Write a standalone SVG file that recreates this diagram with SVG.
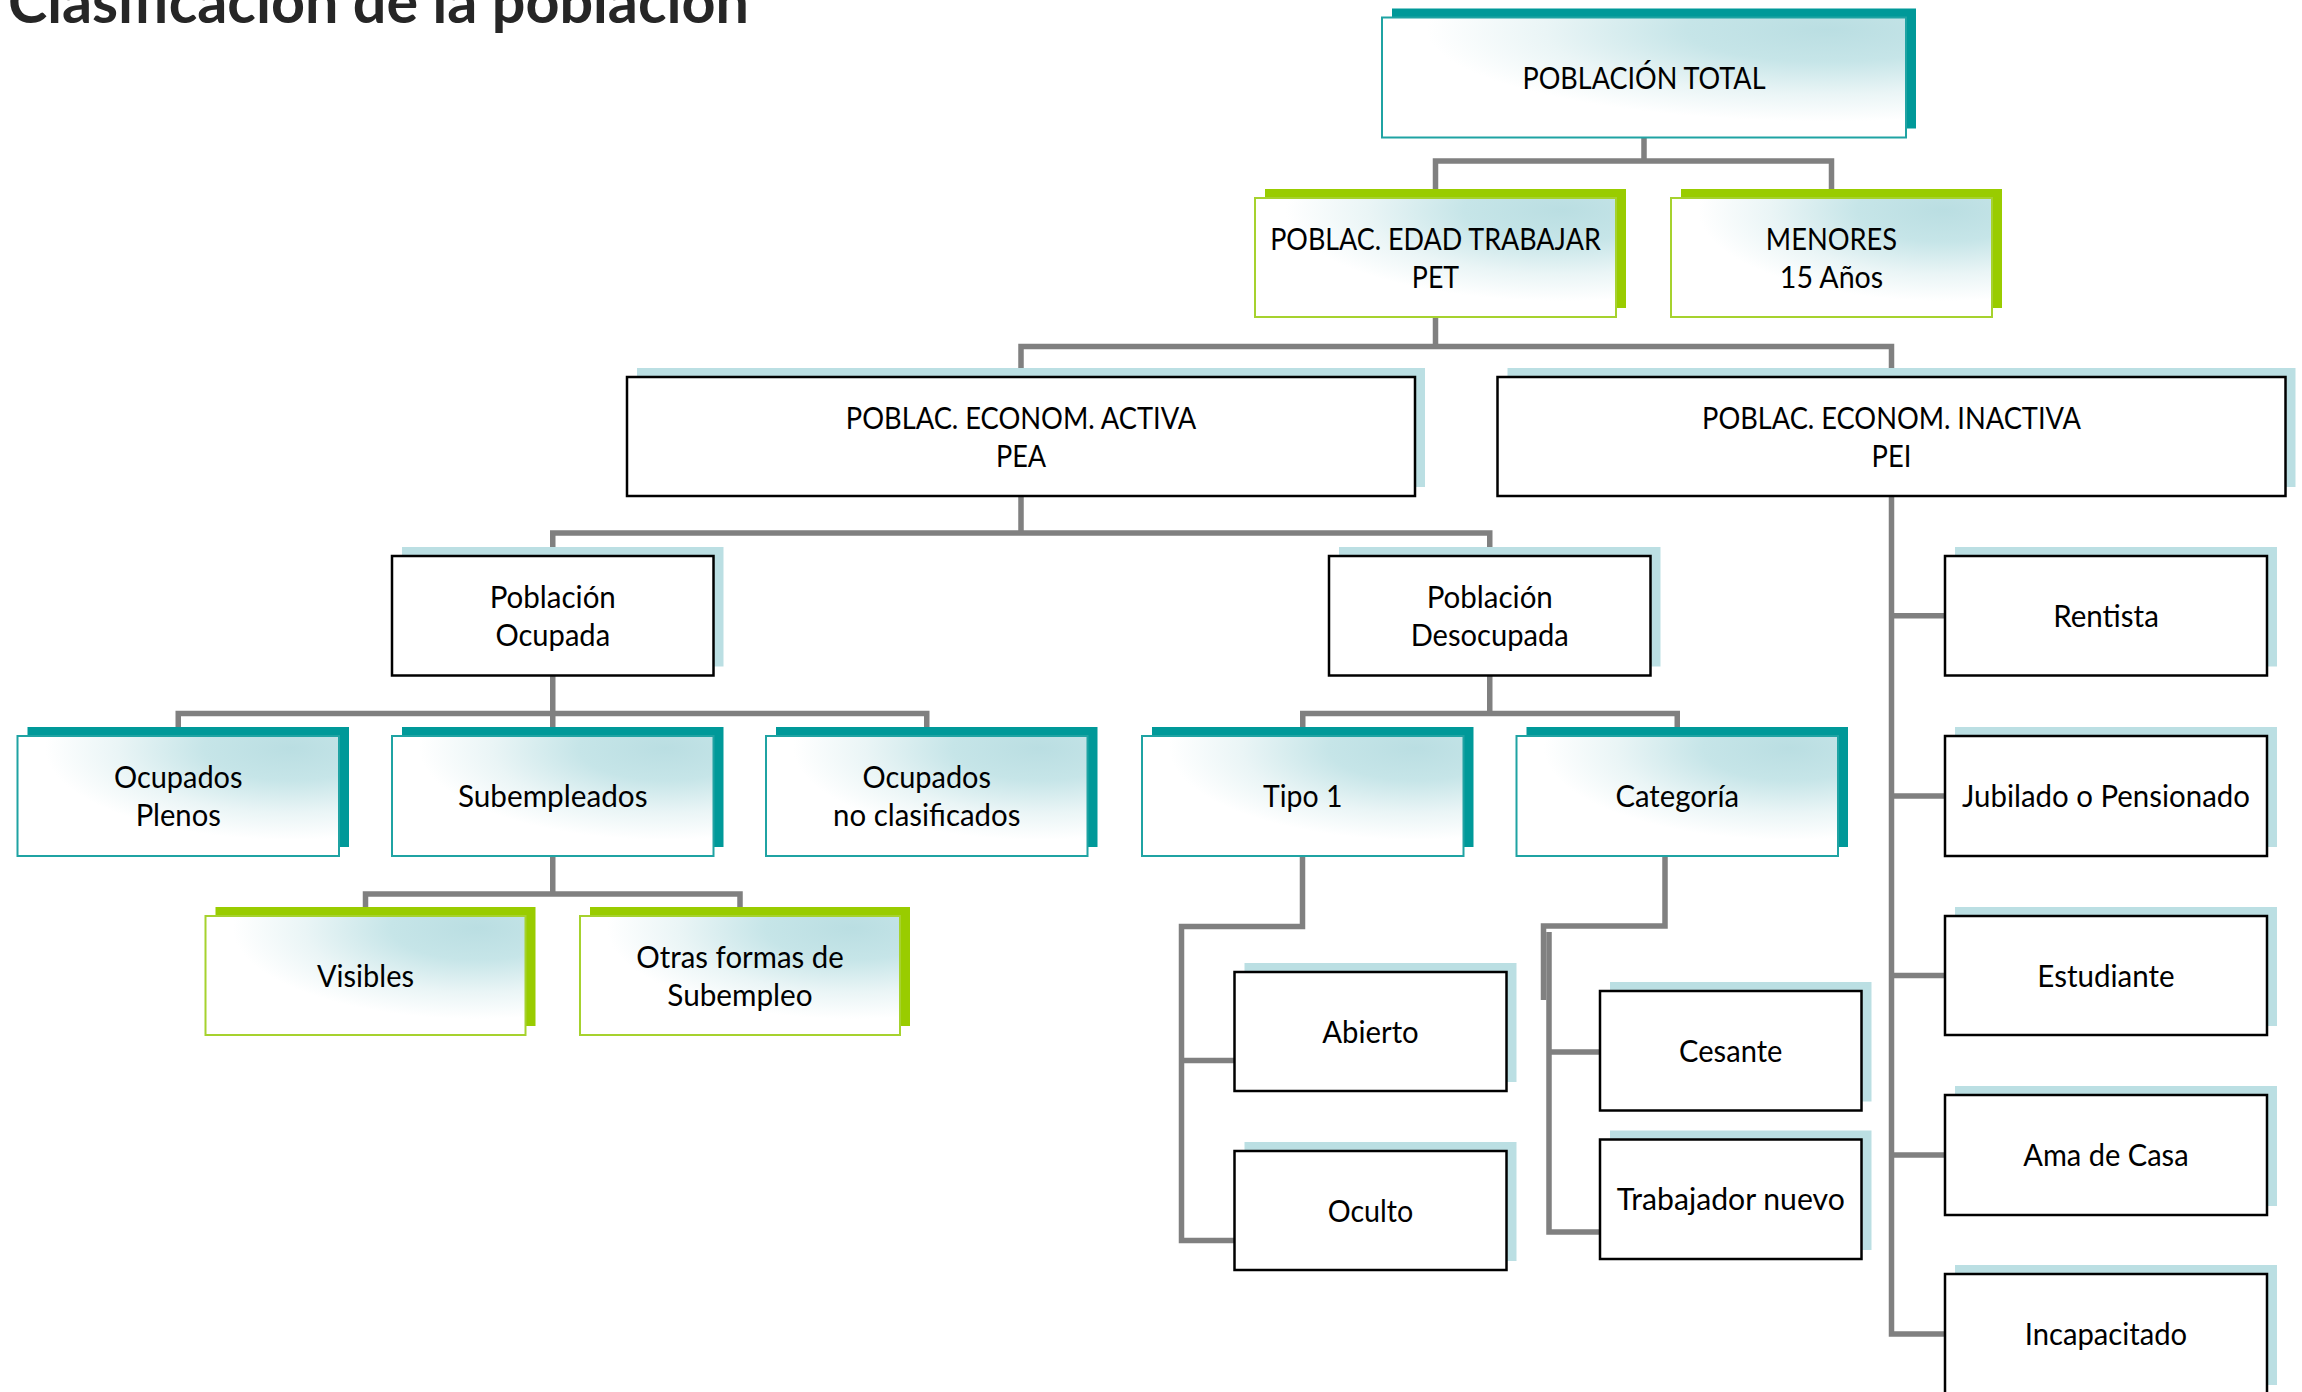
<svg xmlns="http://www.w3.org/2000/svg" width="2302" height="1392" viewBox="0 0 2302 1392">
<style>
.sh-teal{fill:#009999}
.sh-green{fill:#99CC00}
.sh-light{fill:#BBDFE3}
.bx-teal{fill:url(#grad);stroke:#1FA3A3;stroke-width:2}
.bx-green{fill:url(#grad);stroke:#A6D22E;stroke-width:2}
.bx-plain{fill:#FFFFFF;stroke:#000000;stroke-width:2.5}
.t{font-family:Lato,"Open Sans",sans-serif;font-size:31.7px;fill:#000000;text-anchor:middle}
.title{font-family:Lato,"Open Sans",sans-serif;font-weight:700;font-size:60px;fill:#262626}
.conn path{fill:none;stroke:#808080;stroke-width:5.5}
</style>
<defs>
<radialGradient id="grad" cx="0.85" cy="0.1" r="0.9">
<stop offset="0" stop-color="#BADEE2"/>
<stop offset="0.3" stop-color="#C6E5E8"/>
<stop offset="0.6" stop-color="#EAF5F6"/>
<stop offset="0.85" stop-color="#FFFFFF"/>
</radialGradient>
</defs>
<rect width="2302" height="1392" fill="#FFFFFF"/>
<text class="title" x="8" y="23" textLength="741" lengthAdjust="spacingAndGlyphs">Clasificación de la población</text>

<g class="conn" id="connectors">
<path d="M1644,137.5 V161 M1435.5,198 V161 H1831.5 V198"/>
<path d="M1435.5,317 V346.5 M1021,377 V346.5 H1891.5 V377"/>
<path d="M1021,496 V533 M552.75,556 V533 H1489.75 V556"/>
<path d="M1891.5,496 V1334 H1945 M1891.5,615.75 H1945 M1891.5,796 H1945 M1891.5,975.5 H1945 M1891.5,1155 H1945"/>
<path d="M552.75,675.5 V736 M178.25,736 V713.5 H926.75 V736"/>
<path d="M552.75,856 V894 M365.5,916 V894 H740 V916"/>
<path d="M1489.75,675.5 V713.5 M1302.75,736 V713.5 H1677.25 V736"/>
<path d="M1302.5,852 V926.5 H1181.5 V1240.5 H1234.5 M1181.5,1060.5 H1234.5"/>
<path d="M1665,852 V926 H1543.5 V1000"/>
<path d="M1549,932 V1232 H1600 M1549,1052 H1600"/>
</g>

<g id="n-total"><rect class="sh-teal" x="1392" y="8.5" width="524" height="120"/><rect class="bx-teal" x="1382" y="17.5" width="524" height="120"/><text class="t" x="1644" y="88.5" textLength="243" lengthAdjust="spacingAndGlyphs">POBLACIÓN TOTAL</text></g>

<g id="n-pet"><rect class="sh-green" x="1265" y="189" width="361" height="119"/><rect class="bx-green" x="1255" y="198" width="361" height="119"/><text class="t" x="1435.5" y="249.5" textLength="330.6" lengthAdjust="spacingAndGlyphs">POBLAC. EDAD TRABAJAR</text><text class="t" x="1435.5" y="287.5" textLength="47.3" lengthAdjust="spacingAndGlyphs">PET</text></g>

<g id="n-menores"><rect class="sh-green" x="1681" y="189" width="321" height="119"/><rect class="bx-green" x="1671" y="198" width="321" height="119"/><text class="t" x="1831.5" y="249.5" textLength="131.3" lengthAdjust="spacingAndGlyphs">MENORES</text><text class="t" x="1831.5" y="287.5" textLength="103.4" lengthAdjust="spacingAndGlyphs">15 Años</text></g>

<g id="n-pea"><rect class="sh-light" x="637" y="368" width="788" height="119"/><rect class="bx-plain" x="627" y="377" width="788" height="119"/><text class="t" x="1021" y="428.5" textLength="350.4" lengthAdjust="spacingAndGlyphs">POBLAC. ECONOM. ACTIVA</text><text class="t" x="1021" y="466.5" textLength="50.2" lengthAdjust="spacingAndGlyphs">PEA</text></g>

<g id="n-pei"><rect class="sh-light" x="1507.5" y="368" width="788" height="119"/><rect class="bx-plain" x="1497.5" y="377" width="788" height="119"/><text class="t" x="1891.5" y="428.5" textLength="378.9" lengthAdjust="spacingAndGlyphs">POBLAC. ECONOM. INACTIVA</text><text class="t" x="1891.5" y="466.5" textLength="39.8" lengthAdjust="spacingAndGlyphs">PEI</text></g>

<g id="n-ocupada"><rect class="sh-light" x="402" y="547" width="321.5" height="119.5"/><rect class="bx-plain" x="392" y="556" width="321.5" height="119.5"/><text class="t" x="552.75" y="607.75" textLength="126.2" lengthAdjust="spacingAndGlyphs">Población</text><text class="t" x="552.75" y="645.75" textLength="114.7" lengthAdjust="spacingAndGlyphs">Ocupada</text></g>

<g id="n-desocupada"><rect class="sh-light" x="1339" y="547" width="321.5" height="119.5"/><rect class="bx-plain" x="1329" y="556" width="321.5" height="119.5"/><text class="t" x="1489.75" y="607.75" textLength="126.2" lengthAdjust="spacingAndGlyphs">Población</text><text class="t" x="1489.75" y="645.75" textLength="158.1" lengthAdjust="spacingAndGlyphs">Desocupada</text></g>

<g id="n-rentista"><rect class="sh-light" x="1955" y="547" width="322" height="119.5"/><rect class="bx-plain" x="1945" y="556" width="322" height="119.5"/><text class="t" x="2106" y="626.75" textLength="105.7" lengthAdjust="spacingAndGlyphs">Rentista</text></g>

<g id="n-plenos"><rect class="sh-teal" x="27.5" y="727" width="321.5" height="120"/><rect class="bx-teal" x="17.5" y="736" width="321.5" height="120"/><text class="t" x="178.25" y="788" textLength="128.6" lengthAdjust="spacingAndGlyphs">Ocupados</text><text class="t" x="178.25" y="826" textLength="85.2" lengthAdjust="spacingAndGlyphs">Plenos</text></g>

<g id="n-subempleados"><rect class="sh-teal" x="402" y="727" width="321.5" height="120"/><rect class="bx-teal" x="392" y="736" width="321.5" height="120"/><text class="t" x="552.75" y="807" textLength="189.6" lengthAdjust="spacingAndGlyphs">Subempleados</text></g>

<g id="n-noclasif"><rect class="sh-teal" x="776" y="727" width="321.5" height="120"/><rect class="bx-teal" x="766" y="736" width="321.5" height="120"/><text class="t" x="926.75" y="788" textLength="128.6" lengthAdjust="spacingAndGlyphs">Ocupados</text><text class="t" x="926.75" y="826" textLength="187.3" lengthAdjust="spacingAndGlyphs">no clasificados</text></g>

<g id="n-tipo1"><rect class="sh-teal" x="1152" y="727" width="321.5" height="120"/><rect class="bx-teal" x="1142" y="736" width="321.5" height="120"/><text class="t" x="1302.75" y="807" textLength="79.3" lengthAdjust="spacingAndGlyphs">Tipo 1</text></g>

<g id="n-categoria"><rect class="sh-teal" x="1526.5" y="727" width="321.5" height="120"/><rect class="bx-teal" x="1516.5" y="736" width="321.5" height="120"/><text class="t" x="1677.25" y="807" textLength="123.6" lengthAdjust="spacingAndGlyphs">Categoría</text></g>

<g id="n-jubilado"><rect class="sh-light" x="1955" y="727" width="322" height="120"/><rect class="bx-plain" x="1945" y="736" width="322" height="120"/><text class="t" x="2106" y="807" textLength="287.8" lengthAdjust="spacingAndGlyphs">Jubilado o Pensionado</text></g>

<g id="n-visibles"><rect class="sh-green" x="215.5" y="907" width="320" height="119"/><rect class="bx-green" x="205.5" y="916" width="320" height="119"/><text class="t" x="365.5" y="986.5" textLength="97" lengthAdjust="spacingAndGlyphs">Visibles</text></g>

<g id="n-otras"><rect class="sh-green" x="590" y="907" width="320" height="119"/><rect class="bx-green" x="580" y="916" width="320" height="119"/><text class="t" x="740" y="967.5" textLength="207.3" lengthAdjust="spacingAndGlyphs">Otras formas de</text><text class="t" x="740" y="1005.5" textLength="145.3" lengthAdjust="spacingAndGlyphs">Subempleo</text></g>

<g id="n-estudiante"><rect class="sh-light" x="1955" y="907" width="322" height="119"/><rect class="bx-plain" x="1945" y="916" width="322" height="119"/><text class="t" x="2106" y="986.5" textLength="137.3" lengthAdjust="spacingAndGlyphs">Estudiante</text></g>

<g id="n-abierto"><rect class="sh-light" x="1244.5" y="963" width="272" height="119"/><rect class="bx-plain" x="1234.5" y="972" width="272" height="119"/><text class="t" x="1370.5" y="1042.5" textLength="96.4" lengthAdjust="spacingAndGlyphs">Abierto</text></g>

<g id="n-oculto"><rect class="sh-light" x="1244.5" y="1142" width="272" height="119"/><rect class="bx-plain" x="1234.5" y="1151" width="272" height="119"/><text class="t" x="1370.5" y="1221.5" textLength="85.6" lengthAdjust="spacingAndGlyphs">Oculto</text></g>

<g id="n-cesante"><rect class="sh-light" x="1610" y="982" width="261.5" height="119.5"/><rect class="bx-plain" x="1600" y="991" width="261.5" height="119.5"/><text class="t" x="1730.75" y="1061.75" textLength="103.3" lengthAdjust="spacingAndGlyphs">Cesante</text></g>

<g id="n-trabajador"><rect class="sh-light" x="1610" y="1130.5" width="261.5" height="119.5"/><rect class="bx-plain" x="1600" y="1139.5" width="261.5" height="119.5"/><text class="t" x="1730.75" y="1210.25" textLength="228" lengthAdjust="spacingAndGlyphs">Trabajador nuevo</text></g>

<g id="n-ama"><rect class="sh-light" x="1955" y="1086" width="322" height="120"/><rect class="bx-plain" x="1945" y="1095" width="322" height="120"/><text class="t" x="2106" y="1166" textLength="165.3" lengthAdjust="spacingAndGlyphs">Ama de Casa</text></g>

<g id="n-incapacitado"><rect class="sh-light" x="1955" y="1265" width="322" height="120"/><rect class="bx-plain" x="1945" y="1274" width="322" height="120"/><text class="t" x="2106" y="1345" textLength="162.3" lengthAdjust="spacingAndGlyphs">Incapacitado</text></g>
</svg>
